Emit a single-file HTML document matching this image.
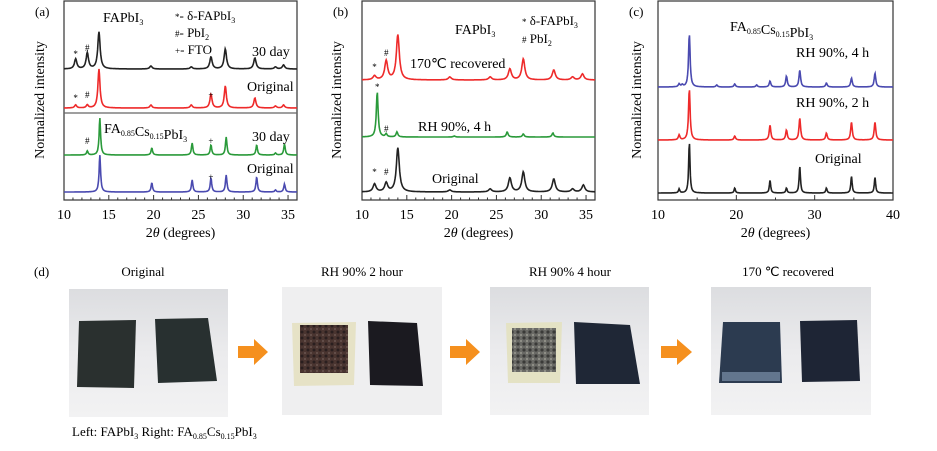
<!DOCTYPE html>
<html><head><meta charset="utf-8">
<style>
html,body{margin:0;padding:0;background:#fff;}
svg{display:block;font-family:"Liberation Serif",serif;}
</style></head>
<body>
<svg id="fig" width="937" height="451" viewBox="0 0 937 451">
  <g id="pa"></g>
  <g id="pb"></g>
  <g id="pc"></g>
  <g id="pd">
    <text x="34" y="276" font-size="13">(d)</text>
    <text x="143" y="276" font-size="13" text-anchor="middle">Original</text>
    <text x="362" y="276" font-size="13" text-anchor="middle">RH 90% 2 hour</text>
    <text x="570" y="276" font-size="13" text-anchor="middle">RH 90% 4 hour</text>
    <text x="788" y="276" font-size="13" text-anchor="middle">170 ℃ recovered</text>

    <defs>
      <linearGradient id="bg" x1="0" y1="0" x2="0" y2="1">
        <stop offset="0" stop-color="#dcdde0"/><stop offset="0.5" stop-color="#ebebed"/><stop offset="1" stop-color="#f2f2f3"/>
      </linearGradient>
      <pattern id="crust1" width="6" height="6" patternUnits="userSpaceOnUse">
        <rect width="6" height="6" fill="#4a3530"/><circle cx="2" cy="2" r="1.5" fill="#2a1f1f"/><circle cx="5" cy="5" r="1" fill="#6a5550"/>
      </pattern>
      <pattern id="crust2" width="6" height="6" patternUnits="userSpaceOnUse">
        <rect width="6" height="6" fill="#6a6a66"/><circle cx="2" cy="2" r="1.6" fill="#3a3a38"/><circle cx="5" cy="5" r="1" fill="#9a9a90"/>
      </pattern>
    </defs>

    <g>
      <rect x="69" y="289" width="159" height="128" fill="url(#bg)"/>
      <polygon points="79,321 136,320 134,388 77,387" fill="#2a302f"/>
      <polygon points="155,319 208,318 217,381 158,383" fill="#283030"/>
    </g>
    <g>
      <rect x="282" y="287" width="160" height="128" fill="#efeff0"/>
      <polygon points="292,323 356,322 354,385 294,386" fill="#e6e2c6"/>
      <rect x="300" y="325" width="48" height="48" fill="url(#crust1)"/>
      <polygon points="368,321 417,323 423,386 370,385" fill="#1b1a20"/>
    </g>
    <g>
      <rect x="490" y="287" width="159" height="128" fill="url(#bg)"/>
      <polygon points="506,323 562,322 560,383 508,383" fill="#e4e2c4"/>
      <rect x="512" y="328" width="44" height="44" fill="url(#crust2)"/>
      <polygon points="574,322 630,325 640,384 576,384" fill="#1f2736"/>
    </g>
    <g>
      <rect x="711" y="287" width="160" height="128" fill="url(#bg)"/>
      <polygon points="723,322 780,322 782,383 719,383" fill="#2c3b50"/>
      <rect x="722" y="372" width="58" height="9" fill="#7a90a8" opacity="0.7"/>
      <polygon points="800,321 857,320 860,381 802,382" fill="#1e2535"/>
    </g>
    <g fill="#f5901e">
      <polygon points="238,346 254,346 254,339 268,352 254,365 254,358 238,358"/>
      <polygon points="450,346 466,346 466,339 480,352 466,365 466,358 450,358"/>
      <polygon points="661,346 677,346 677,339 692,352 677,365 677,358 661,358"/>
    </g>
    <text x="72" y="436" font-size="13">Left: FAPbI<tspan font-size="8" dy="3">3</tspan><tspan dy="-3"> Right: FA</tspan><tspan font-size="8" dy="3">0.85</tspan><tspan dy="-3">Cs</tspan><tspan font-size="8" dy="3">0.15</tspan><tspan dy="-3">PbI</tspan><tspan font-size="8" dy="3">3</tspan></text>
  </g>
</svg>
<script>
// ---- Panel (a) data ----
const aBlackPos = [11.3,12.6,13.9,19.7,24.2,26.4,28.0,31.3,33.6,34.5];
const aBlackH   = [10,16,37,3,2,12,20,11,2,4];
const aRedPos   = [11.3,12.6,13.9,19.7,24.2,26.4,28.0,31.3,33.6,34.5];
const aRedH     = [3,3,39,3,3,14,22,10,2,3];
const aGreenPos = [12.6,14.0,19.8,24.3,26.4,28.1,31.5,33.6,34.6];
const aGreenH   = [4,37,7,12,10,18,10,2,11];
const aBluePos  = [14.0,19.8,24.3,26.4,28.1,31.5,33.6,34.6];
const aBlueH    = [37,9,12,14,17,15,2,8];
const aTicks = [10,15,20,25,30,35];
// ---- Panel (b) data ----
const bRedPos   = [11.4,12.7,14.0,19.8,24.3,26.5,28.0,31.4,33.5,34.6];
const bRedH     = [4,19,45,3,3,11,21,10,3,6];
const bGreenPos = [11.7,12.7,13.9,20.3,26.2,28.0,31.3];
const bGreenH   = [45,3,5,1,5,3,4];
const bBlackPos = [11.4,12.7,14.0,19.8,24.3,26.5,28.0,31.4,33.5,34.7];
const bBlackH   = [8,9,44,2,3,14,20,13,3,7];
const bTicks = [10,15,20,25,30,35];
// ---- Panel (c) data ----
const cBluePos  = [12.7,13.1,14.0,17.5,19.8,22.6,24.3,26.4,28.1,31.5,34.7,37.7];
const cBlueH    = [3,2,53,2,3,2,6,11,17,4,9,14];
const cRedPos   = [12.7,14.0,19.8,24.3,26.4,28.1,31.5,34.7,37.7];
const cRedH     = [5,51,4,15,10,22,7,18,18];
const cBlackPos = [12.7,14.0,19.8,24.3,26.4,28.1,31.5,34.7,37.7];
const cBlackH   = [4,51,5,13,5,27,5,17,16];
const cTicks = [10,20,30,40];

const NS="http://www.w3.org/2000/svg";
function mk(parent,tag,attrs){const e=document.createElementNS(NS,tag);for(const k in attrs)e.setAttribute(k,attrs[k]);parent.appendChild(e);return e;}

function panel(g,x0,x1,xmin,xmax,ticks,minorStep,label,ytitleX){
  const sx=v=>x0+(v-xmin)/(xmax-xmin)*(x1-x0);
  const frame=mk(g,'rect',{x:x0,y:1,width:x1-x0,height:199,fill:'none',stroke:'#333','stroke-width':1.2});
  
  
  for(let v=xmin;v<=xmax+1e-6;v+=minorStep){
    const major=ticks.indexOf(Math.round(v*10)/10)>=0;
    const t=mk(g,'line',{x1:sx(v),x2:sx(v),y1:200,y2:major?195:197.5,stroke:'#333'});
    
    
  }
  ticks.forEach(v=>{
    const t=mk(g,'text',{x:sx(v),y:219,'font-size':14,'text-anchor':'middle'});
    t.textContent=v;
    
    
  });
  const xt=mk(g,'text',{x:(x0+x1)/2,y:237,'font-size':14,'text-anchor':'middle'});
  xt.innerHTML='2<tspan font-style="italic">θ</tspan> (degrees)';
  
  
  const yt=mk(g,'text',{x:0,y:0,'font-size':14,'text-anchor':'middle',transform:`translate(${ytitleX},100) rotate(-90)`});
  yt.textContent='Normalized intensity';
  
  
  const pl=mk(g,'text',{x:x0-29,y:16,'font-size':13});
  pl.textContent=label;
  
  
  return sx;
}
function trace(g,sx,xmin,xmax,base,pos,h,w,color,name){
  let d='';
  for(let i=0;i<=500;i++){
    const v=xmin+(xmax-xmin)*i/500;
    let y=0;
    for(let k=0;k<pos.length;k++){const z=(v-pos[k])/w;y+=h[k]/(1+z*z);}
    d+=(i?'L':'M')+sx(v).toFixed(1)+','+(base-y).toFixed(1);
  }
  const p=mk(g,'path',{d:d,fill:'none',stroke:color,'stroke-width':1.6});
  
  
}
function txt(g,x,y,html,size,name,anchor){
  const t=mk(g,'text',{x:x,y:y,'font-size':size||13,'text-anchor':anchor||'start'});
  t.innerHTML=html;
  
  
}
const sub=s=>`<tspan font-size="8" dy="3">${s}</tspan><tspan dy="-3"></tspan>`;

// Panel a
const ga=document.getElementById('pa');
const sa=panel(ga,64,297,10,36,aTicks,1,'(a)',44);
const dv=mk(ga,'line',{x1:64,x2:297,y1:113,y2:113,stroke:'#666','stroke-width':1.2});


trace(ga,sa,10,36,69,aBlackPos,aBlackH,0.16,'#222','series-fapbi3-30day');
trace(ga,sa,10,36,108,aRedPos,aRedH,0.14,'#ee2a2a','series-fapbi3-original');
trace(ga,sa,10,36,155,aGreenPos,aGreenH,0.1,'#2a9a3a','series-facs-30day');
trace(ga,sa,10,36,192,aBluePos,aBlueH,0.1,'#4a4ab0','series-facs-original');
txt(ga,103,22,'FAPbI'+sub('3'),14,'title-fapbi3');
txt(ga,175,20,'<tspan font-size="9">*</tspan>- δ-FAPbI'+sub('3'),13,'legend-delta');
txt(ga,175,37,'<tspan font-size="9">#</tspan>- PbI'+sub('2'),13,'legend-pbi2');
txt(ga,175,54,'<tspan font-size="9">+</tspan>- FTO',13,'legend-fto');
txt(ga,252,56,'30 day',14,'label-30day-a');
txt(ga,247,91,'Original',14,'label-original-a');
txt(ga,104,133,'FA'+sub('0.85')+'Cs'+sub('0.15')+'PbI'+sub('3'),14,'title-facs-a');
txt(ga,252,141,'30 day',14,'label-30day-b');
txt(ga,247,173,'Original',14,'label-original-b');
[[11.3,57,'*'],[12.6,51,'#'],[11.3,101,'*'],[12.6,98,'#'],[26.4,98,'+'],[12.6,144,'#'],[26.4,144,'+'],[26.4,180,'+']].forEach(m=>txt(ga,sa(m[0]),m[1],m[2],9,'peak-marker','middle'));

// Panel b
const gb=document.getElementById('pb');
const sb=panel(gb,362,595,10,36,bTicks,1,'(b)',341);
trace(gb,sb,10,36,80,bRedPos,bRedH,0.2,'#ee2a2a','series-170c-recovered');
trace(gb,sb,10,36,137,bGreenPos,bGreenH,0.12,'#2a9a3a','series-rh90-4h');
trace(gb,sb,10,36,192,bBlackPos,bBlackH,0.2,'#222','series-original-b');
txt(gb,455,34,'FAPbI'+sub('3'),14,'title-b');
txt(gb,522,25,'<tspan font-size="9">*</tspan> δ-FAPbI'+sub('3'),13,'legend-delta-b');
txt(gb,522,43,'<tspan font-size="9">#</tspan> PbI'+sub('2'),13,'legend-pbi2-b');
txt(gb,410,68,'170℃ recovered',14,'label-recovered');
txt(gb,418,131,'RH 90%, 4 h',14,'label-rh90-4h');
txt(gb,432,183,'Original',14,'label-original-c');
[[11.4,70,'*'],[12.7,56,'#'],[11.7,90,'*'],[12.7,132,'#'],[11.4,175,'*'],[12.7,175,'#']].forEach(m=>txt(gb,sb(m[0]),m[1],m[2],9,'peak-marker','middle'));

// Panel c
const gc=document.getElementById('pc');
const scx=panel(gc,658,893,10,40,cTicks,5,'(c)',641);
trace(gc,scx,10,40,87,cBluePos,cBlueH,0.12,'#4a4ab0','series-rh90-4h-c');
trace(gc,scx,10,40,140,cRedPos,cRedH,0.12,'#ee2a2a','series-rh90-2h-c');
trace(gc,scx,10,40,193,cBlackPos,cBlackH,0.1,'#222','series-original-c');
txt(gc,730,31,'FA'+sub('0.85')+'Cs'+sub('0.15')+'PbI'+sub('3'),14,'title-c');
txt(gc,796,57,'RH 90%, 4 h',14,'label-rh90-4h-c');
txt(gc,796,107,'RH 90%, 2 h',14,'label-rh90-2h-c');
txt(gc,815,163,'Original',14,'label-original-c2');
</script>
</body></html>
